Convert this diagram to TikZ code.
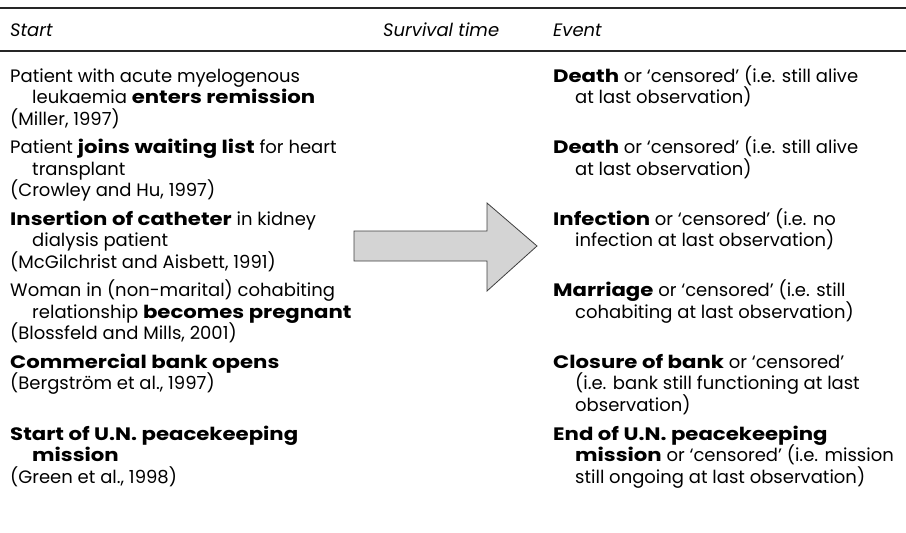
\documentclass[tikz,border=0pt]{standalone}
\usepackage{fontspec}
\setmainfont{Poppins}[BoldFeatures={FakeStretch=1.18}]
\begin{document}
\begin{tikzpicture}[x=1pt,y=-1pt,
  txt/.style={anchor=base west,inner sep=0pt,font=\fontsize{18}{21}\selectfont},
  hdr/.style={txt,font=\fontsize{18}{21}\selectfont\itshape},
  rule/.style={line width=1.3pt,black!85},
  bigarrow/.style={draw=black!75,fill=black!17,line width=0.8pt}]
\useasboundingbox (0,0) rectangle (906,533);
% rules
\coordinate (r1l) at (0,8); \coordinate (r1r) at (906,8);
\coordinate (r2l) at (0,51); \coordinate (r2r) at (906,51);
\draw[rule] (r1l) -- (r1r);
\draw[rule] (r2l) -- (r2r);
% header
\node[hdr] (hs) at (10,36) {Start};
\node[hdr] (ht) at (383,36) {Survival time};
\node[hdr] (he) at (553,36) {Event};
\begin{scope}[yshift=-1.5pt]
% left column
\node[txt] (s1a) at (10,80.5) {Patient with acute myelogenous};
\node[txt] (s1b) at (32,102) {leukaemia \textbf{enters remission}};
\node[txt] (s1c) at (10,123.5) {(Miller, 1997)};
\node[txt] (s2a) at (10,152) {Patient \textbf{joins waiting list} for heart};
\node[txt] (s2b) at (32,173.5) {transplant};
\node[txt] (s2c) at (10,195) {(Crowley and Hu, 1997)};
\node[txt] (s3a) at (10,223.5) {\textbf{Insertion of catheter} in kidney};
\node[txt] (s3b) at (32,245) {dialysis patient};
\node[txt] (s3c) at (10,266.5) {(McGilchrist and Aisbett, 1991)};
\node[txt] (s4a) at (10,295) {Woman in (non-marital) cohabiting};
\node[txt] (s4b) at (32,316.5) {relationship \textbf{becomes pregnant}};
\node[txt] (s4c) at (10,338) {(Blossfeld and Mills, 2001)};
\node[txt] (s5a) at (10,366.5) {\textbf{Commercial bank opens}};
\node[txt] (s5b) at (10,388) {(Bergstr\"om et al., 1997)};
\node[txt] (s6a) at (10,438.5) {\textbf{Start of U.N. peacekeeping}};
\node[txt] (s6b) at (32,460) {\textbf{mission}};
\node[txt] (s6c) at (10,481.5) {(Green et al., 1998)};
% right column
\node[txt] (e1a) at (553,80.5) {\textbf{Death} or ‘censored’ (i.e. still alive};
\node[txt] (e1b) at (575,102) {at last observation)};
\node[txt] (e2a) at (553,152) {\textbf{Death} or ‘censored’ (i.e. still alive};
\node[txt] (e2b) at (575,173.5) {at last observation)};
\node[txt] (e3a) at (553,223.5) {\textbf{Infection} or ‘censored’ (i.e. no};
\node[txt] (e3b) at (575,245) {infection at last observation)};
\node[txt] (e4a) at (553,295) {\textbf{Marriage} or ‘censored’ (i.e. still};
\node[txt] (e4b) at (575,316.5) {cohabiting at last observation)};
\node[txt] (e5a) at (553,366.5) {\textbf{Closure of bank} or ‘censored’};
\node[txt] (e5b) at (575,388) {(i.e. bank still functioning at last};
\node[txt] (e5c) at (575,409.5) {observation)};
\node[txt] (e6a) at (553,438.5) {\textbf{End of U.N. peacekeeping}};
\node[txt] (e6b) at (575,460) {\textbf{mission} or ‘censored’ (i.e. mission};
\node[txt] (e6c) at (575,481.5) {still ongoing at last observation)};
\end{scope}
% arrow
\draw[bigarrow] (354,231) -- (487,231) -- (487,203) -- (537,246) -- (487,291) -- (487,261) -- (354,261) -- cycle;
\end{tikzpicture}
\end{document}
